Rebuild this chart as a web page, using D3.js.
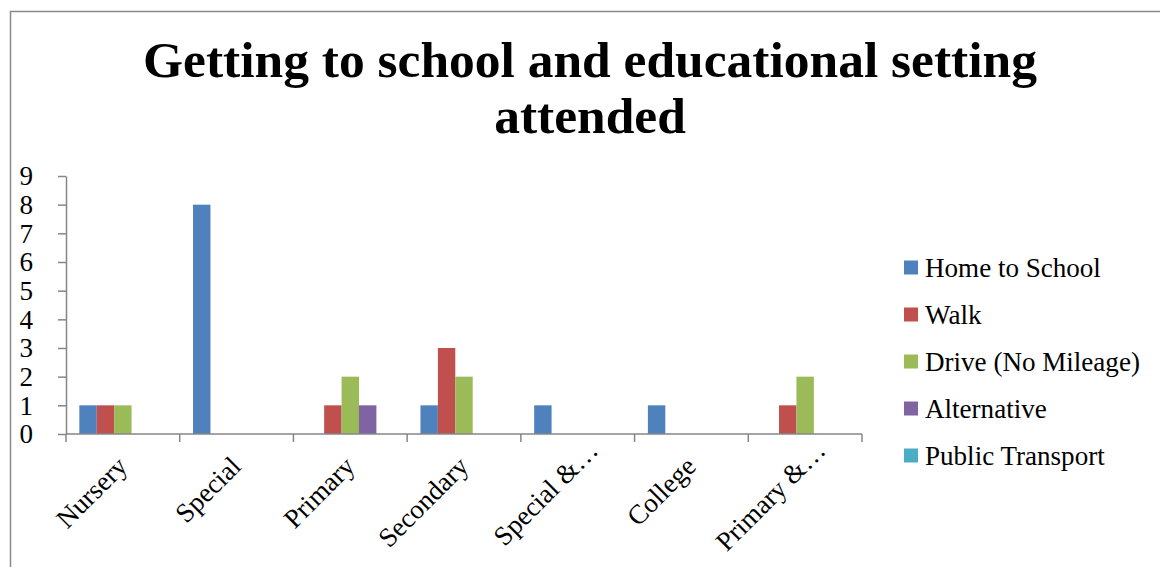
<!DOCTYPE html>
<html>
<head>
<meta charset="utf-8">
<script src="https://cdn.jsdelivr.net/npm/d3@7"></script>
<style>
  html, body { margin: 0; padding: 0; background: #fff; }
  svg { display: block; }
  text { font-family: "Liberation Serif", "Times New Roman", serif; fill: #000; }
</style>
</head>
<body>
<svg id="chart" width="1160" height="567"></svg>
<script>
// Educational setting categories and the counts for each way of getting to school
const categories = ["Nursery", "Special", "Primary", "Secondary", "Special &…", "College", "Primary &…"];
const seriesNames = ["Home to School", "Walk", "Drive (No Mileage)", "Alternative", "Public Transport"];
const homeToSchool    = [1, 8, 0, 1, 1, 1, 0];
const walk            = [1, 0, 1, 3, 0, 0, 1];
const driveNoMileage  = [1, 0, 2, 2, 0, 0, 2];
const alternative     = [0, 0, 1, 0, 0, 0, 0];
const publicTransport = [0, 0, 0, 0, 0, 0, 0];
const yTicks = [0, 1, 2, 3, 4, 5, 6, 7, 8, 9];
const titleLines = ["Getting to school and educational setting", "attended"];

const seriesValues = [homeToSchool, walk, driveNoMileage, alternative, publicTransport];
const colors = ["#4F81BD", "#C0504D", "#9BBB59", "#8064A2", "#4BACC6"];

const svg = d3.select("#chart");

// Outer chart frame (top and left edges visible)
svg.append("path")
  .attr("d", "M10.5,567 V11.5 H1160")
  .attr("fill", "none")
  .attr("stroke", "#898989")
  .attr("stroke-width", 1.5);

// Helper: pick a font size that makes a string reach a given width
function fitSize(str, width, weight) {
  const t = svg.append("text").attr("font-size", 100).attr("font-weight", weight).text(str);
  const w = t.node().getComputedTextLength();
  t.remove();
  return 100 * width / w;
}

const titleSize = fitSize(titleLines[0], 894, "bold");
const labelSize = fitSize("Drive (No Mileage)", 215, "normal");

// Title
const title = svg.append("g");
titleLines.forEach((line, i) => {
  title.append("text")
    .attr("x", 590)
    .attr("y", 77 + i * 56)
    .attr("text-anchor", "middle")
    .attr("font-weight", "bold")
    .attr("font-size", titleSize)
    .text(line);
});

// Plot area
const plot = { left: 66, right: 862, top: 176, bottom: 434 };

const x = d3.scaleBand()
  .domain(categories)
  .range([plot.left, plot.right])
  .paddingInner(0)
  .paddingOuter(0);

const inner = d3.scaleBand()
  .domain(seriesNames)
  .range([0, x.bandwidth()])
  .paddingInner(0)
  .paddingOuter(0.765);

const y = d3.scaleLinear().domain([0, 9]).range([plot.bottom, plot.top]);

// Bars
const groups = svg.append("g").selectAll("g")
  .data(seriesNames)
  .join("g")
  .attr("fill", (d, i) => colors[i]);

groups.selectAll("rect")
  .data((s, i) => categories.map((c, j) => ({ cat: c, series: s, value: seriesValues[i][j] })))
  .join("rect")
  .filter(d => d.value > 0)
  .attr("x", d => x(d.cat) + inner(d.series))
  .attr("width", inner.bandwidth())
  .attr("y", d => y(d.value))
  .attr("height", d => y(0) - y(d.value));

// Y axis
const yAxis = svg.append("g")
  .attr("transform", `translate(${plot.left},0)`)
  .call(d3.axisLeft(y).tickValues(yTicks).tickSize(8).tickSizeOuter(0).tickPadding(25));
yAxis.select(".domain").attr("stroke", "#868686").attr("stroke-width", 1.5);
yAxis.selectAll(".tick line").attr("stroke", "#868686").attr("stroke-width", 1.5);
yAxis.selectAll(".tick text")
  .attr("font-family", "Liberation Serif, serif")
  .attr("font-size", labelSize)
  .attr("fill", "#000");

// X axis with tick marks at category boundaries
const xAxisG = svg.append("g").attr("transform", `translate(0,${plot.bottom})`);
xAxisG.append("line")
  .attr("x1", plot.left).attr("x2", plot.right)
  .attr("stroke", "#868686").attr("stroke-width", 1.5);
const boundaries = categories.map(c => x(c)).concat([x.range()[1]]);
xAxisG.selectAll("line.tick")
  .data(boundaries)
  .join("line")
  .attr("class", "tick")
  .attr("x1", d => d).attr("x2", d => d)
  .attr("y1", 0).attr("y2", 8)
  .attr("stroke", "#868686").attr("stroke-width", 1.5);

// Rotated category labels; truncated labels sit a little further along their slant
xAxisG.selectAll("text")
  .data(categories)
  .join("text")
  .attr("text-anchor", "end")
  .attr("font-size", labelSize)
  .attr("transform", d => {
    const shift = d.endsWith("…") ? 16 : 0;
    return `translate(${x(d) + x.bandwidth() / 2 + 6 + shift},${34 - shift}) rotate(-45)`;
  })
  .text(d => d);

// Legend
const legend = svg.append("g").attr("transform", "translate(904,0)");
const legendY = d3.scalePoint().domain(seriesNames).range([267.5, 455.5]);
seriesNames.forEach((s, i) => {
  legend.append("rect")
    .attr("x", 0).attr("y", legendY(s) - 7)
    .attr("width", 14).attr("height", 14)
    .attr("fill", colors[i]);
  legend.append("text")
    .attr("x", 21).attr("y", legendY(s))
    .attr("dy", "0.35em")
    .attr("font-size", labelSize)
    .text(s);
});
</script>
</body>
</html>
